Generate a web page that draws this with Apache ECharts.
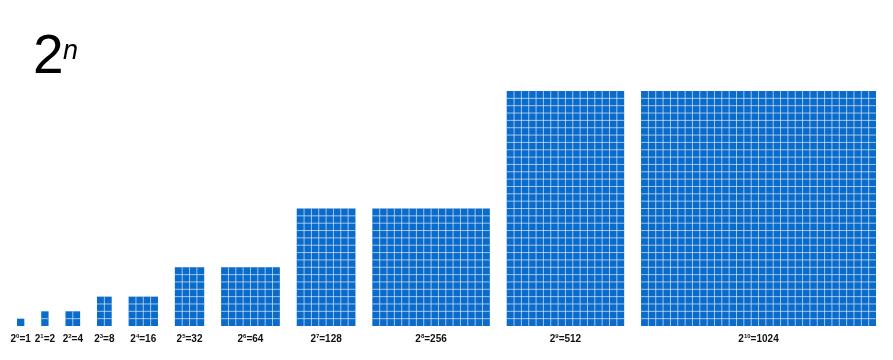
<!DOCTYPE html>
<html>
<head>
<meta charset="utf-8">
<script src="https://cdn.jsdelivr.net/npm/echarts@6/dist/echarts.min.js"></script>
<style>html,body{margin:0;padding:0;background:#fff}#c{width:893px;height:360px}</style>
</head>
<body>
<div id="c"></div>
<script>
// Data
const exponents = [0, 1, 2, 3, 4, 5, 6, 7, 8, 9, 10];
const values = [1, 2, 4, 8, 16, 32, 64, 128, 256, 512, 1024];
const cols = [1, 1, 2, 2, 4, 4, 8, 8, 16, 16, 32];
const rows = [1, 2, 2, 4, 4, 8, 8, 16, 16, 32, 32];

const GAP = 2.3; // gap between blocks in cell units (layout)

const blocks = [];
let cursor = 0;
for (let i = 0; i < exponents.length; i++) {
  blocks.push([cursor, cursor + cols[i], rows[i], i]);
  cursor += cols[i] + GAP;
}
const totalX = cursor - GAP;
const maxRows = Math.max.apply(null, rows);

const chart = echarts.init(document.getElementById('c'), null, {renderer: 'canvas'});
chart.setOption({
  animation: false,
  backgroundColor: '#ffffff',
  title: [
    {text: '2', left: 28, top: 25, textStyle: {fontFamily: 'Liberation Sans', fontSize: 55, fontWeight: 'normal', color: '#000'}},
    {text: 'n', left: 58, top: 33, textStyle: {fontFamily: 'Liberation Sans', fontSize: 27, fontStyle: 'italic', fontWeight: 'normal', color: '#000'}}
  ],
  grid: {left: 17, right: 17, top: 91, bottom: 34},
  xAxis: {type: 'value', min: 0, max: totalX, show: false},
  yAxis: {type: 'value', min: 0, max: maxRows, show: false},
  series: [{
    type: 'custom',
    data: blocks,
    encode: {x: [0, 1], y: 2},
    renderItem: function (params, api) {
      const x0 = api.value(0), x1 = api.value(1), r = api.value(2), idx = api.value(3);
      const c = x1 - x0;
      const p0 = api.coord([x0, 0]);
      const p1 = api.coord([x1, r]);
      const children = [];
      children.push({
        type: 'rect',
        shape: {x: p0[0], y: p1[1], width: p1[0] - p0[0], height: p0[1] - p1[1]},
        style: {fill: '#0b6bcb'}
      });
      for (let k = 1; k < c; k++) {
        const px = api.coord([x0 + k, 0])[0];
        children.push({type: 'line', shape: {x1: px, y1: p1[1], x2: px, y2: p0[1]},
          style: {stroke: 'rgba(255,255,255,0.6)', lineWidth: 1}});
      }
      for (let k = 1; k < r; k++) {
        const py = api.coord([x0, k])[1];
        children.push({type: 'line', shape: {x1: p0[0], y1: py, x2: p1[0], y2: py},
          style: {stroke: 'rgba(255,255,255,0.6)', lineWidth: 1}});
      }
      children.push({
        type: 'text',
        style: {
          text: '{m|2}{s|' + exponents[idx] + '}{m|=' + values[idx] + '}',
          x: (p0[0] + p1[0]) / 2, y: p0[1] + 13,
          align: 'center', verticalAlign: 'middle',
          rich: {
            m: {fontFamily: 'Liberation Sans', fontWeight: 'bold', fontSize: 10, lineHeight: 12, fill: '#111', color: '#111'},
            s: {fontFamily: 'Liberation Sans', fontWeight: 'bold', fontSize: 6, lineHeight: 6, verticalAlign: 'top', fill: '#111', color: '#111'}
          }
        }
      });
      return {type: 'group', children: children};
    }
  }]
});
</script>
</body>
</html>
